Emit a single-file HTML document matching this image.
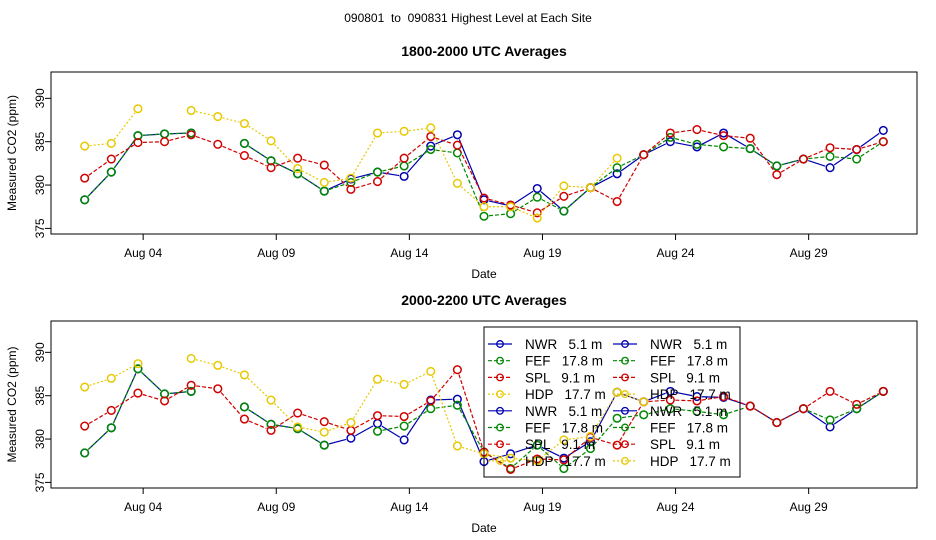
<!DOCTYPE html>
<html><head><meta charset="utf-8"><style>
body{margin:0;background:#fff}
svg{display:block;font-family:"Liberation Sans",sans-serif}
.pre{white-space:pre}
</style></head><body>
<svg id="c" width="936" height="540" xmlns="http://www.w3.org/2000/svg">
<text x="468" y="22" text-anchor="middle" font-size="12" class="pre">090801  to  090831 Highest Level at Each Site</text>
</svg>
<script>
const dayTicks=["Aug 04","Aug 09","Aug 14","Aug 19","Aug 24","Aug 29"];
const tickDayIdx=[3,8,13,18,23,28];
const yTicks=[375,380,385,390];
const siteNames=["NWR","FEF","SPL","HDP"];
const N=null;
const topNWR=[378.3,381.5,385.7,385.9,386.0,N,384.8,382.8,381.3,379.3,380.7,381.5,381.0,384.5,385.8,378.3,377.6,379.6,377.0,379.7,381.3,383.5,385.0,384.4,386.0,384.2,382.2,383.0,382.0,384.1,386.3];
const topFEF=[378.3,381.5,385.7,385.9,386.0,N,384.8,382.8,381.3,379.3,380.3,381.5,382.2,384.1,383.7,376.4,376.7,378.6,377.0,379.7,382.0,383.5,385.5,384.7,384.4,384.2,382.2,383.0,383.3,383.0,385.0];
const topSPL=[380.8,383.0,384.9,385.0,385.8,384.7,383.4,382.0,383.1,382.3,379.5,380.4,383.1,385.6,384.6,378.5,377.7,376.8,378.7,379.7,378.1,383.5,386.0,386.4,385.7,385.4,381.2,383.0,384.3,384.1,385.0];
const topHDP=[384.5,384.8,388.8,N,388.6,387.9,387.1,385.1,381.9,380.3,380.8,386.0,386.2,386.6,380.2,377.5,377.5,376.2,379.9,379.7,383.1,N,N,N,N,N,N,N,N,N,N];
const botNWR=[378.4,381.3,388.1,385.2,385.5,N,383.7,381.7,381.2,379.3,380.1,381.8,379.9,384.5,384.6,377.4,378.3,379.3,377.8,379.7,385.4,384.3,385.5,384.9,384.8,383.8,381.9,383.5,381.4,383.5,385.5];
const botFEF=[378.4,381.3,388.1,385.2,385.5,N,383.7,381.7,381.2,379.3,N,380.9,381.5,383.5,383.9,378.5,376.6,379.3,376.6,378.9,382.4,382.8,383.5,383.2,382.8,383.8,381.9,383.5,382.2,383.5,385.5];
const botSPL=[381.5,383.3,385.3,384.4,386.2,385.8,382.3,381.0,383.0,382.0,381.0,382.7,382.6,384.4,388.0,378.5,376.5,377.7,377.6,380.2,379.3,384.3,384.5,384.4,384.9,383.8,381.9,383.5,385.5,384.0,385.5];
const botHDP=[386.0,387.0,388.7,N,389.3,388.5,387.4,384.5,381.4,380.8,381.9,386.9,386.3,387.8,379.2,378.3,377.8,377.5,379.9,380.3,385.4,384.3,N,N,N,N,N,N,N,N,N];
const colors=["#0000b0","#008800","#d00000","#e8c800"];
const dashes=["none","4,2","4,2","2,2"];
const NS="http://www.w3.org/2000/svg";
const svg=document.getElementById('c');
function mk(t,a,p){const e=document.createElementNS(NS,t);for(const k in a)e.setAttribute(k,a[k]);(p||svg).appendChild(e);return e;}
function panel(top,bot,title,series,pname){
  const L=51,R=917;
  const xs=i=>84.7+26.62*i;
  const ys=v=>bot-3-(v-374.7)*8.67;
  const g=mk('g',{});
  
  
  const box=mk('rect',{x:L,y:top,width:R-L,height:bot-top,fill:'none',stroke:'#000'},g);
  
  const t=mk('text',{x:484,y:top-16,'text-anchor':'middle','font-size':14,'font-weight':'bold'},g);t.textContent=title;
  
  yTicks.forEach(v=>{const y=ys(v);mk('line',{x1:L-6,x2:L,y1:y,y2:y,stroke:'#000'},g);
    const tx=mk('text',{x:44,y:y,'text-anchor':'middle','font-size':12,transform:`rotate(-90 44 ${y})`},g);tx.textContent=v;
    });
  tickDayIdx.forEach((d,k)=>{const x=63.3+26.62*d;mk('line',{x1:x,x2:x,y1:bot,y2:bot+6,stroke:'#000'},g);
    const tx=mk('text',{x:x,y:bot+23,'text-anchor':'middle','font-size':12},g);tx.textContent=dayTicks[k];
    });
  const xl=mk('text',{x:484,y:bot+44,'text-anchor':'middle','font-size':12},g);xl.textContent='Date';
  
  const yy=(top+bot)/2;
  const yl=mk('text',{x:16,y:yy,'text-anchor':'middle','font-size':12,transform:`rotate(-90 16 ${yy})`},g);yl.textContent='Measured CO2 (ppm)';
  
  series.forEach((s,si)=>{
    const sg=mk('g',{},g);
    
    
    for(let i=0;i<s.length-1;i++){if(s[i]==null||s[i+1]==null)continue;
      const x1=xs(i),y1=ys(s[i]),x2=xs(i+1),y2=ys(s[i+1]);const dx=x2-x1,dy=y2-y1,l=Math.hypot(dx,dy);if(l<10)continue;
      const ux=dx/l,uy=dy/l;
      mk('line',{x1:x1+ux*5,y1:y1+uy*5,x2:x2-ux*5,y2:y2-uy*5,stroke:colors[si],'stroke-width':1.2,'stroke-dasharray':dashes[si]},sg);}
    s.forEach((v,i)=>{if(v==null)return;const c=mk('circle',{cx:xs(i),cy:ys(v),r:3.8,fill:'none',stroke:colors[si],'stroke-width':1.5},sg);
      });
  });
}
panel(72,234,"1800-2000 UTC Averages",[topNWR,topFEF,topSPL,topHDP],'top-panel');
panel(321,488,"2000-2200 UTC Averages",[botNWR,botFEF,botSPL,botHDP],'bottom-panel');
const lg=mk('g',{});


mk('rect',{x:484,y:327,width:256,height:150,fill:'none',stroke:'#000'},lg);
const heights=["5.1 m","17.8 m","9.1 m","17.7 m"];
for(let col=0;col<2;col++)for(let r=0;r<8;r++){
  const si=r%4,y=344+r*16.7,x0=488+col*125;
  const d=(r<4)?dashes[si]:(si==0?"none":dashes[si]);
  mk('line',{x1:x0,x2:x0+24,y1:y,y2:y,stroke:colors[si],'stroke-width':1.2,'stroke-dasharray':d},lg);
  mk('circle',{cx:x0+12,cy:y,r:3.3,fill:'none',stroke:colors[si],'stroke-width':1.3},lg);
  const t=mk('text',{x:x0+37,y:y+5,'font-size':13.5,'class':'pre'},lg);
  t.textContent=siteNames[si]+"   "+heights[si];
  
  
}
</script>
</body></html>
